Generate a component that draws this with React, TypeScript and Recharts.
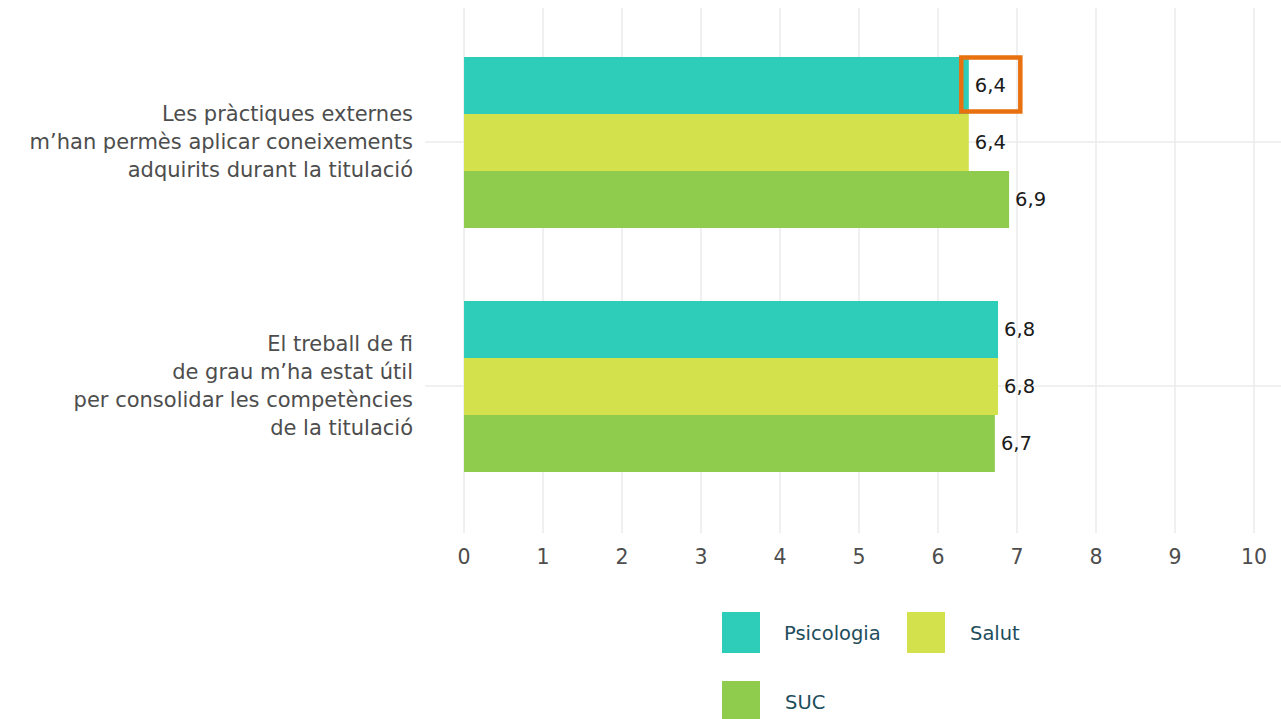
import React from 'react';
import { BarChart, Bar, XAxis, YAxis, CartesianGrid, LabelList } from 'recharts';

const categories = [
    'Les pràctiques externes\nm’han permès aplicar coneixements\nadquirits durant la titulació',
    'El treball de fi\nde grau m’ha estat útil\nper consolidar les competències\nde la titulació',
];
const psicologia = [6.39, 6.76];
const salut = [6.39, 6.76];
const suc = [6.9, 6.72];
const xTicks = [0, 1, 2, 3, 4, 5, 6, 7, 8, 9, 10];

const seriesNames = ['Psicologia', 'Salut', 'SUC'];
const colors = ['#2ecdb9', '#d3e24c', '#8fcb4d'];

const data = categories.map((name, i) => ({
    name,
    Psicologia: psicologia[i],
    Salut: salut[i],
    SUC: suc[i],
}));

const FONT = '"DejaVu Sans", sans-serif';
const GRID = '#ebebeb';

const fmt = (v: number) => v.toFixed(1).replace('.', ',');

function CategoryTick(props: any) {
    const { y, payload } = props;
    const lines = String(payload.value).split('\n');
    const lh = 28;
    const start = y - ((lines.length - 1) * lh) / 2;
    return (
        <text x={413} y={start} textAnchor="end" fill="#4d4d4d" fontSize={21} fontFamily={FONT}>
            {lines.map((l, i) => (
                <tspan key={i} x={413} y={start + i * lh} dominantBaseline="central">{l}</tspan>
            ))}
        </text>
    );
}

function makeLabel(highlight: boolean) {
    return (props: any) => {
        const { x, y, width, height, value, index } = props;
        const end = x + width;
        return (
            <g>
                <text x={end + 6} y={y + height / 2} dominantBaseline="central" fill="#1a1a1a" fontSize={19.5} fontFamily={FONT}>
                    {fmt(value)}
                </text>
                {highlight && index === 0 && (
                    <rect x={end - 7.5} y={y + 0.5} width={59} height={54} fill="none" stroke="#e8700e" strokeWidth={4.5} />
                )}
            </g>
        );
    };
}

function ChartLegend() {
    const pos = [
        { sx: 722, sy: 612, tx: 784 },
        { sx: 907, sy: 612, tx: 970 },
        { sx: 722, sy: 681, tx: 785 },
    ];
    return (
        <>
            {seriesNames.map((n, i) => (
                <React.Fragment key={n}>
                    <div style={{ position: 'absolute', left: pos[i].sx, top: pos[i].sy, width: 38, height: 41, background: colors[i] }} />
                    <div style={{ position: 'absolute', left: pos[i].tx, top: pos[i].sy + 21, transform: 'translateY(-50%)', color: '#1e4d5c', fontSize: 19.5, fontFamily: FONT, whiteSpace: 'nowrap' }}>{n}</div>
                </React.Fragment>
            ))}
        </>
    );
}

export default function App() {
    return (
        <div style={{ position: 'absolute', left: 0, top: 0, width: 1281, height: 719, background: '#fff', overflow: 'hidden' }}>
            <BarChart
                width={1281}
                height={719}
                data={data}
                layout="vertical"
                margin={{ top: 8, right: 0, bottom: 146, left: 0 }}
                barGap={0}
                barSize={57}
            >
                <CartesianGrid stroke={GRID} strokeWidth={1.5} syncWithTicks />
                <XAxis
                    type="number"
                    domain={[-0.494, 10.342]}
                    ticks={xTicks}
                    allowDataOverflow
                    axisLine={false}
                    tickLine={false}
                    tickMargin={10}
                    height={40}
                    tick={{ fill: '#4d4d4d', fontSize: 20.5, fontFamily: FONT }}
                />
                <YAxis
                    type="category"
                    dataKey="name"
                    width={425}
                    axisLine={false}
                    tickLine={false}
                    padding={{ top: 12, bottom: 25 }}
                    tick={<CategoryTick />}
                />
                {seriesNames.map((n, i) => (
                    <Bar key={n} dataKey={n} fill={colors[i]} isAnimationActive={false}>
                        <LabelList dataKey={n} content={makeLabel(i === 0)} />
                    </Bar>
                ))}
            </BarChart>
            <ChartLegend />
        </div>
    );
}
